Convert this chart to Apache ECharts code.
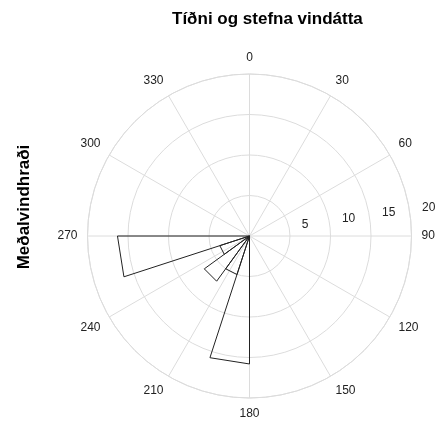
<!DOCTYPE html>
<html><head><meta charset="utf-8">
<script src="https://cdn.jsdelivr.net/npm/echarts@6/dist/echarts.min.js"></script>
<style>html,body{margin:0;padding:0;background:#fff}#c{width:444px;height:423px}</style>
</head><body><div id="c"></div>
<script>
const chartTitle = 'Tíðni og stefna vindátta';
const yLabel = 'Meðalvindhraði';
// start angle (degrees) of each 18° direction bin
const directionBins = [0,18,36,54,72,90,108,126,144,162,180,198,216,234,252,270,288,306,324,342];
const binWidth = 18;
// mean wind speed per bin (null = no data)
const windSpeed = [null,null,null,null,null,null,null,null,null,null,15.8,5.0,6.9,3.85,16.3,null,null,null,null,null];
const angleTicks = [0,30,60,90,120,150,180,210,240,270,300,330];
const radiusTicks = [0,5,10,15,20];

const FONT = '"Liberation Sans", Arial, sans-serif';
const center = [249.5, 236];
const R = 162;
const grid = '#dcdcdc';

const sectorData = [];
directionBins.forEach((b, i) => { if (windSpeed[i] != null) sectorData.push([windSpeed[i], b]); });

const chart = echarts.init(document.getElementById('c'));
chart.setOption({
  animation: false,
  title: {
    text: chartTitle, left: 167, top: 6,
    textStyle: {fontFamily: FONT, fontSize: 17, fontWeight: 'bold', color: '#000'}
  },
  // hidden cartesian axis only used to carry the rotated y-axis title
  grid: {left: 44, width: 10, top: 100, bottom: 109},
  xAxis: {type: 'value', show: false},
  yAxis: {
    type: 'value', name: yLabel, nameLocation: 'middle', nameGap: 11, nameRotate: 90,
    nameTextStyle: {fontFamily: FONT, fontSize: 17, fontWeight: 'bold', color: '#000'},
    axisLine: {show: false}, axisTick: {show: false}, axisLabel: {show: false}, splitLine: {show: false}
  },
  polar: [{center, radius: R}, {center, radius: R}],
  angleAxis: [
    {
      polarIndex: 0, type: 'value', min: angleTicks[0], max: 360, interval: angleTicks[1] - angleTicks[0],
      startAngle: 90, clockwise: true,
      axisLine: {lineStyle: {color: grid, width: 1}},
      axisTick: {show: false},
      axisLabel: {margin: 10, align: 'center', verticalAlign: 'middle', fontSize: 12, fontFamily: FONT, color: '#222',
        formatter: v => angleTicks.indexOf(v) >= 0 ? String(v) : ''},
      splitLine: {lineStyle: {color: grid, width: 1}}
    },
    {polarIndex: 1, type: 'value', min: 0, max: 360, startAngle: 8, show: false}
  ],
  radiusAxis: [
    {
      polarIndex: 0, type: 'value', min: 0, max: radiusTicks[radiusTicks.length - 1], interval: radiusTicks[1] - radiusTicks[0],
      axisLine: {show: false}, axisTick: {show: false}, axisLabel: {show: false},
      splitLine: {lineStyle: {color: grid, width: 1}}
    },
    {
      polarIndex: 1, type: 'value', min: 0, max: radiusTicks[radiusTicks.length - 1], interval: radiusTicks[1] - radiusTicks[0],
      axisLine: {show: false}, axisTick: {show: false}, splitLine: {show: false},
      axisLabel: {showMinLabel: false, align: 'left', padding: [0, 0, 0, 13], margin: 6,
        fontSize: 12, fontFamily: FONT, color: '#222'}
    }
  ],
  series: [{
    type: 'custom', coordinateSystem: 'polar', polarIndex: 0,
    data: sectorData,
    renderItem: function (params, api) {
      const r = api.value(0), a0 = api.value(1);
      const p0 = api.coord([0, a0]);
      const p1 = api.coord([r, a0]);
      const p2 = api.coord([r, a0 + binWidth]);
      return {
        type: 'polygon', shape: {points: [p0, p1, p2]},
        style: {fill: 'none', stroke: '#222', lineWidth: 1}
      };
    }
  }]
});
</script>
</body></html>
